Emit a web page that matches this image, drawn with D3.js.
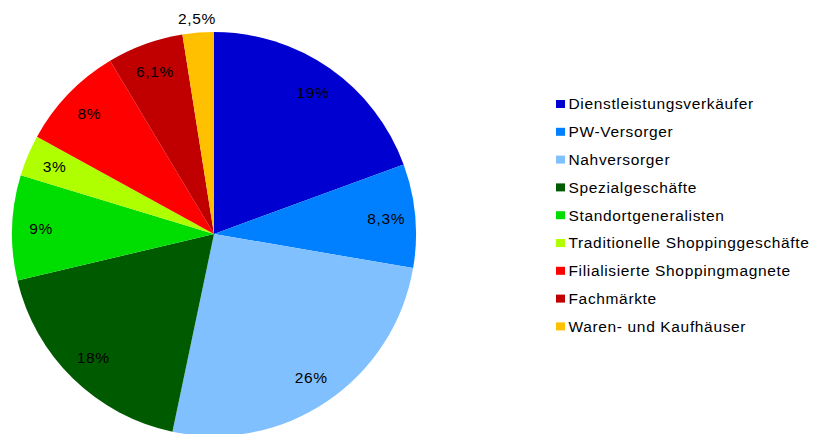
<!DOCTYPE html>
<html lang="de">
<head>
  <meta charset="UTF-8">
  <title>Kundensegmente</title>
  <style>
    body { margin: 0; background: #fff; }
    text {
      font-family: "Liberation Sans", Arial, sans-serif;
      font-size: 15.5px;
      letter-spacing: 0.65px;
      fill: #000;
    }
  </style>
</head>
<body>
  <svg width="816" height="434"></svg>

  <script src="https://d3js.org/d3.v7.min.js"></script>
  <script>
    var categories = [
      "Dienstleistungsverkäufer",
      "PW-Versorger",
      "Nahversorger",
      "Spezialgeschäfte",
      "Standortgeneralisten",
      "Traditionelle Shoppinggeschäfte",
      "Filialisierte Shoppingmagnete",
      "Fachmärkte",
      "Waren- und Kaufhäuser"
    ];
    // slice shares
    var values = [19.4, 8.3, 25.6, 18.0, 8.4, 3.3, 8.4, 6.1, 2.5];
    // labels as printed on the chart
    var labels = ["19%", "8,3%", "26%", "18%", "9%", "3%", "8%", "6,1%", "2,5%"];
    var colors = ["#0000d0", "#0080ff", "#80c0ff", "#005a00", "#00dd00",
                  "#b0ff00", "#ff0000", "#c00000", "#ffc000"];

    var svg = d3.select("svg");
    var cx = 214, cy = 234, radius = 202;

    var pie = d3.pie().sort(null).value(function(d) { return d; });
    var arcs = pie(values);

    var arc = d3.arc().innerRadius(0).outerRadius(radius);
    var labelArc = d3.arc().innerRadius(173).outerRadius(173);
    var outerArc = d3.arc().innerRadius(216).outerRadius(216);

    var g = svg.append("g").attr("transform", "translate(" + cx + "," + cy + ")");

    g.selectAll("path")
      .data(arcs)
      .enter().append("path")
      .attr("d", arc)
      .attr("fill", function(d, i) { return colors[i]; });

    g.selectAll("text.pct")
      .data(arcs)
      .enter().append("text")
      .attr("class", "pct")
      .attr("text-anchor", "middle")
      .attr("dy", "0.35em")
      .attr("transform", function(d) {
        // the smallest slice has its label outside the pie
        var p = d.data < 2.6 ? outerArc.centroid(d) : labelArc.centroid(d);
        return "translate(" + p + ")";
      })
      .text(function(d, i) { return labels[i]; });

    var legend = svg.append("g").attr("transform", "translate(556,104)");
    var rows = legend.selectAll("g")
      .data(categories)
      .enter().append("g")
      .attr("transform", function(d, i) { return "translate(0," + i * 27.8 + ")"; });

    rows.append("rect")
      .attr("x", 0).attr("y", -4)
      .attr("width", 9).attr("height", 8)
      .attr("fill", function(d, i) { return colors[i]; });

    rows.append("text")
      .attr("x", 12.5)
      .attr("dy", "0.35em")
      .text(function(d) { return d; });
  </script>
</body>
</html>
